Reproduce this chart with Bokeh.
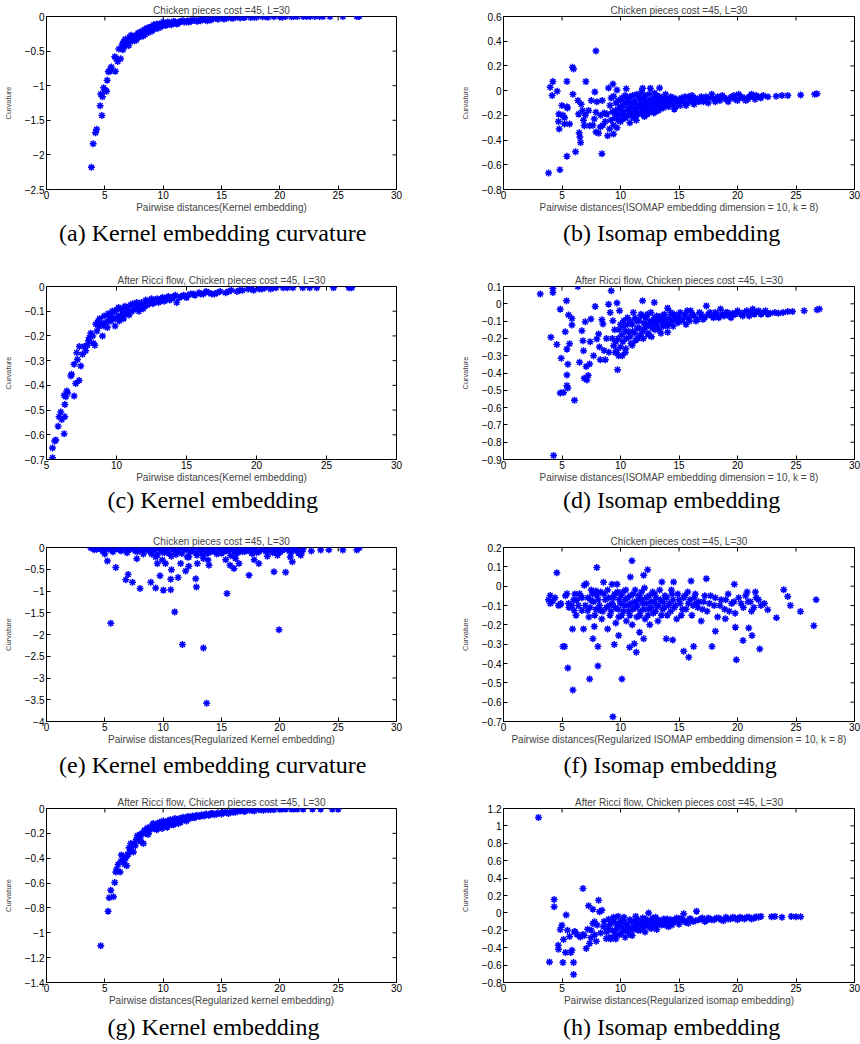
import math
from bokeh.plotting import figure
from bokeh.layouts import column, row
from bokeh.models import Range1d, FixedTicker, Title, CustomJSTickFormatter
from bokeh.embed import file_html
from bokeh.resources import INLINE

# ---------------- data ----------------
a_pts = [(3.85,-2.18),(4.0,-1.84),(4.2,-1.68),(4.3,-1.63),(4.6,-1.29),(4.75,-1.43),(4.65,-1.12),(4.8,-1.16),
         (4.9,-1.03),(5.05,-1.07),(5.15,-1.08),(5.2,-0.92),(5.3,-0.8),(5.45,-0.79),(5.55,-0.73),(5.5,-0.76),
         (5.9,-0.79),(5.85,-0.58),(5.95,-0.6),(6.1,-0.65),(6.35,-0.61),(6.2,-0.47),(6.45,-0.46),(6.55,-0.48),
         (6.5,-0.4),(6.6,-0.37),(6.7,-0.43),(6.8,-0.35),(6.9,-0.38),(6.75,-0.33),(7.0,-0.34),(7.05,-0.42),
         (7.1,-0.3),(7.2,-0.36),(7.25,-0.27),(7.3,-0.32),(7.5,-0.31),(7.6,-0.28),(7.7,-0.34),(7.8,-0.27),
         (7.9,-0.3),(8.0,-0.23),(8.1,-0.26),(8.2,-0.21),(8.3,-0.28),(8.4,-0.19),(8.5,-0.22),(8.6,-0.17),
         (8.7,-0.2),(8.8,-0.16),(8.9,-0.21),(9.0,-0.18),(9.1,-0.14),(9.2,-0.12),(9.3,-0.16),(9.4,-0.13),
         (9.6,-0.14),(9.7,-0.11),(9.8,-0.15),(9.9,-0.13),(10.0,-0.08),(10.1,-0.1),(10.3,-0.12),(10.5,-0.09),
         (10.6,-0.11),(10.8,-0.1),(11.0,-0.08),(11.1,-0.1),(11.3,-0.09),(11.5,-0.07),(11.8,-0.08),(12.0,-0.08),
         (12.1,-0.06),(12.4,-0.07),(12.7,-0.05),(12.9,-0.07),(13.0,-0.06),(13.3,-0.04),(13.6,-0.05),(13.8,-0.06),
         (14.0,-0.04),(14.3,-0.03),(14.7,-0.04),(15.0,-0.02),(15.4,-0.03),(15.8,-0.02),(16.2,-0.015),(16.6,-0.02),
         (17.0,-0.01),(17.5,-0.015),(18.0,-0.01),(18.5,-0.005),(19.0,-0.01),(19.5,-0.005),(20.0,-0.005),
         (20.5,0.0),(21.0,-0.005),(21.5,0.0),(22.0,0.0),(22.6,0.0),(23.4,0.0),(23.7,0.0),(24.3,0.0),
         (25.4,0.0),(26.6,0.0),(26.8,0.0)]
a_band = [(7.4,-0.29),(7.55,-0.35),(7.85,-0.24),(8.05,-0.29),(8.25,-0.24),(8.45,-0.26),(8.55,-0.18),
          (8.75,-0.23),(8.95,-0.15),(9.05,-0.21),(9.25,-0.18),(9.45,-0.11),(9.55,-0.17),(9.75,-0.13),
          (9.95,-0.11),(10.2,-0.13),(10.4,-0.08),(10.7,-0.12),(10.9,-0.07),(11.2,-0.11),(11.4,-0.08),
          (11.7,-0.06),(12.2,-0.08),(12.5,-0.05),(13.2,-0.06),(13.5,-0.035),(14.1,-0.05),(14.5,-0.025),
          (15.2,-0.035),(16.0,-0.025),(16.9,-0.015),(17.8,-0.01),(18.8,-0.005),(20.2,-0.01),(21.2,0.0),
          (22.3,0.0),(23.0,0.0)]

b_pts = [(3.85,-0.667),(3.99,0.027),(4.22,0.073),(4.16,-0.04),(4.59,-0.005),(4.73,-0.19),(4.7,-0.25),
         (4.76,-0.31),(4.82,-0.64),(4.99,-0.12),(5.08,-0.2),(5.22,-0.22),(5.22,-0.27),(5.42,0.075),(5.42,-0.13),
         (5.42,-0.53),(5.47,-0.14),(5.65,-0.27),(5.93,-0.03),(5.9,0.19),(5.99,0.175),(6.16,-0.495),(6.36,-0.08),
         (6.42,-0.19),(6.47,-0.34),(6.53,-0.375),(6.59,-0.42),(6.64,-0.11),(6.76,-0.16),(6.84,-0.24),(6.9,-0.285),
         (7.04,0.073),(6.99,-0.2),(7.27,-0.16),(7.36,-0.285),(7.5,-0.08),(7.64,-0.28),(7.76,-0.23),(7.81,-0.01),
         (7.9,0.32),(7.9,-0.175),(7.9,-0.335),(7.98,-0.09),(8.13,-0.345),(8.27,-0.295),(8.41,-0.51),(8.44,-0.08),
         (8.61,-0.18),(8.84,-0.19),(8.9,-0.365),(8.98,0.022),(9.07,-0.31),(9.18,-0.24),(9.35,0.054),(9.41,-0.045),
         (9.41,-0.28),(9.58,-0.16),(9.7,0.006),(9.78,-0.24),(9.6,-0.1),(9.9,-0.2),(10.0,-0.13),(10.0,-0.25),
         (10.1,-0.06),(10.2,-0.23),(10.2,-0.12),(10.3,-0.17),(10.4,-0.04),(10.49,0.015),(10.5,-0.1),(10.6,-0.2),
         (10.7,-0.14),(10.8,-0.05),(10.8,-0.26),(10.9,-0.18),(11.0,-0.11),(11.1,-0.22),(11.2,-0.08),(11.3,-0.15),
         (11.3,-0.21),(11.4,-0.03),(11.5,-0.19),(11.6,-0.12),(11.7,-0.07),(11.8,-0.01),(11.89,0.02),(11.9,-0.16),
         (12.0,-0.1),(12.0,-0.2),(12.1,-0.04),(12.2,-0.13),(12.3,-0.19),(12.4,-0.08),(12.55,0.02),(12.6,-0.12),
         (12.7,-0.15),(12.8,-0.06),(12.9,-0.1),(12.9,-0.02),(13.0,-0.17),(13.1,-0.04),(13.2,-0.12),(13.34,0.022),
         (13.4,-0.08),(13.5,-0.14),(13.6,-0.1),(13.8,-0.06),(13.9,-0.12),(14.0,-0.08),(14.2,-0.11),(14.3,-0.05),
         (14.5,-0.09),(14.7,-0.13),(14.8,-0.07),(15.0,-0.1),(15.2,-0.06),(15.4,-0.09),(15.6,-0.12),(15.8,-0.05),
         (16.0,-0.08),(16.2,-0.1),(16.4,-0.06),(16.7,-0.09),(17.0,-0.07),(17.3,-0.05),(17.5,-0.1),(17.8,-0.03),
         (18.0,-0.07),(18.3,-0.05),(18.5,-0.08),(18.9,-0.06),(19.2,-0.09),(19.5,-0.05),(19.8,-0.07),(20.1,-0.03),
         (20.4,-0.06),(20.7,-0.08),(21.0,-0.05),(21.2,-0.03),(21.5,-0.07),(21.8,-0.05),(22.2,-0.04),(22.6,-0.05),
         (23.3,-0.045),(23.8,-0.04),(24.3,-0.04),(25.4,-0.035),(26.6,-0.03),(26.8,-0.025)]
b_band = [(10.05,-0.16),(10.15,-0.08),(10.25,-0.19),(10.35,-0.11),(10.45,-0.22),(10.55,-0.06),(10.65,-0.15),
          (10.75,-0.09),(10.85,-0.2),(10.95,-0.13),(11.05,-0.04),(11.15,-0.17),(11.25,-0.1),(11.35,-0.24),
          (11.45,-0.13),(11.55,-0.05),(11.65,-0.18),(11.75,-0.1),(11.85,-0.14),(11.95,-0.06),(12.05,-0.21),
          (12.15,-0.09),(12.25,-0.15),(12.35,-0.11),(12.45,-0.03),(12.55,-0.17),(12.65,-0.08),(12.75,-0.12),
          (12.85,-0.18),(12.95,-0.07),(13.05,-0.13),(13.15,-0.09),(13.25,-0.16),(13.35,-0.05),(13.45,-0.11),
          (13.55,-0.07),(13.65,-0.14),(13.75,-0.09),(13.85,-0.03),(13.95,-0.1),(14.1,-0.13),(14.25,-0.07),
          (14.4,-0.11),(14.55,-0.06),(14.6,-0.15),(14.9,-0.09),(15.1,-0.12),(15.3,-0.08),(15.5,-0.05),
          (15.7,-0.1),(15.9,-0.07),(16.1,-0.04),(16.3,-0.11),(16.5,-0.08),(16.9,-0.05),(17.1,-0.09),
          (17.4,-0.07),(17.7,-0.06),(18.1,-0.09),(18.4,-0.06),(18.7,-0.04),(19.0,-0.07),(19.4,-0.06),
          (19.7,-0.04),(20.0,-0.08),(20.3,-0.05),(20.6,-0.06),(20.9,-0.07),(21.3,-0.05),(21.6,-0.04),
          (22.0,-0.06),(9.1,-0.12),(9.2,-0.06),(9.3,-0.17),(9.5,-0.22),(9.7,-0.3),(9.8,-0.08),(9.9,-0.14),
          (8.7,-0.25),(8.3,-0.2),(8.5,-0.28),(9.4,-0.35),(9.6,-0.19)]

c_pts = [(5.43,-0.693),(5.43,-0.653),(5.59,-0.625),(5.67,-0.621),(5.83,-0.565),(5.9,-0.527),(6.02,-0.508),
         (6.09,-0.538),(6.31,-0.527),(6.26,-0.596),(6.31,-0.477),(6.38,-0.446),(6.45,-0.423),(6.26,-0.44),
         (6.5,-0.43),(6.74,-0.362),(6.79,-0.355),(6.97,-0.443),(6.97,-0.315),(7.09,-0.392),(7.16,-0.268),
         (7.21,-0.295),(7.33,-0.38),(7.35,-0.243),(7.45,-0.322),(7.57,-0.274),(7.69,-0.243),(7.93,-0.238),
         (8.05,-0.207),(8.16,-0.189),(8.35,-0.23),(8.45,-0.238),(8.52,-0.153),(8.69,-0.139),(8.76,-0.162),
         (9.0,-0.2),(9.12,-0.119),(9.23,-0.146),(9.35,-0.166),(9.5,-0.12),(9.6,-0.14),(9.7,-0.1),(9.8,-0.13),
         (9.9,-0.16),(10.0,-0.095),(10.1,-0.12),(10.2,-0.14),(10.3,-0.09),(10.4,-0.11),(10.5,-0.13),(10.6,-0.08),
         (10.8,-0.1),(10.9,-0.115),(11.0,-0.075),(11.2,-0.095),(11.3,-0.07),(11.5,-0.085),(11.6,-0.1),
         (11.8,-0.065),(12.0,-0.08),(12.1,-0.055),(12.3,-0.07),(12.5,-0.05),(12.7,-0.065),(12.9,-0.05),
         (13.1,-0.06),(13.3,-0.045),(13.5,-0.055),(13.7,-0.04),(13.9,-0.05),(14.1,-0.04),(14.3,-0.065),
         (14.5,-0.045),(14.8,-0.035),(15.0,-0.045),(15.3,-0.03),(15.6,-0.035),(15.9,-0.025),(16.2,-0.03),
         (16.6,-0.025),(17.0,-0.03),(17.4,-0.02),(17.8,-0.025),(18.2,-0.015),(18.6,-0.02),(19.0,-0.015),
         (19.4,-0.01),(19.8,-0.015),(20.2,-0.01),(20.6,-0.005),(21.0,-0.01),(21.4,-0.005),(21.9,-0.005),
         (22.6,-0.005),(23.3,-0.005),(23.8,-0.005),(24.3,-0.005),(25.5,-0.005),(26.6,-0.005),(26.8,-0.005)]
c_band = [(9.45,-0.14),(9.65,-0.11),(9.85,-0.1),(10.05,-0.13),(10.15,-0.085),(10.35,-0.12),(10.45,-0.095),
          (10.7,-0.11),(10.75,-0.085),(11.1,-0.1),(11.15,-0.07),(11.4,-0.09),(11.45,-0.065),(11.7,-0.075),
          (11.9,-0.09),(12.2,-0.075),(12.4,-0.06),(12.6,-0.07),(12.8,-0.055),(13.0,-0.065),(13.2,-0.05),
          (13.4,-0.06),(13.6,-0.045),(13.8,-0.055),(14.0,-0.045),(14.2,-0.035),(14.6,-0.04),(15.1,-0.035),
          (15.5,-0.03),(16.0,-0.03),(16.4,-0.02),(16.8,-0.03),(17.2,-0.025),(18.0,-0.02),(18.8,-0.015),
          (19.6,-0.01),(20.4,-0.01),(21.2,-0.005),(22.2,-0.005),(8.3,-0.2),(8.6,-0.18),(8.9,-0.15),
          (8.0,-0.22),(7.8,-0.26),(8.8,-0.13),(9.1,-0.16),(9.4,-0.11)]

d_pts = [(3.14,0.056),(4.22,0.088),(4.22,0.065),(4.05,-0.194),(4.28,-0.877),(4.56,-0.235),(4.85,-0.031),
         (4.93,-0.315),(4.85,-0.515),(5.13,-0.512),(5.28,-0.162),(5.39,0.017),(5.42,-0.262),(5.42,-0.412),
         (5.42,-0.473),(5.5,-0.487),(5.5,-0.35),(5.56,-0.065),(5.65,-0.231),(5.85,-0.085),(5.85,-0.123),
         (6.07,-0.558),(6.36,0.1),(6.5,-0.338),(6.7,-0.156),(6.79,-0.213),(6.84,-0.271),(6.9,-0.431),
         (6.99,-0.104),(7.07,-0.362),(7.13,-0.44),(7.24,-0.415),(7.36,-0.348),(7.41,-0.219),(7.47,-0.088),
         (7.7,-0.3),(7.84,-0.015),(7.98,-0.204),(8.13,-0.175),(8.27,-0.323),(8.41,-0.092),(8.5,-0.117),
         (8.7,-0.323),(8.98,-0.002),(9.12,-0.05),(9.21,0.075),(9.35,-0.098),(9.41,-0.242),(9.55,-0.281),
         (9.7,0.004),(9.75,-0.381),(9.84,-0.3),(9.92,-0.04),(10.27,-0.098),(10.41,-0.281),(8.2,-0.25),
         (8.6,-0.27),(8.8,-0.2),(9.0,-0.28),(9.3,-0.2),(9.6,-0.22),(9.9,-0.15),(10.0,-0.25),(10.1,-0.18),
         (10.3,-0.13),(10.5,-0.2),(10.6,-0.08),(10.7,-0.16),(10.9,-0.23),(11.0,-0.12),(11.1,-0.05),(11.2,-0.17),
         (11.4,-0.1),(11.5,-0.2),(11.6,-0.14),(11.8,-0.07),(11.89,0.017),(11.9,-0.16),(12.0,-0.11),(12.2,-0.13),
         (12.3,-0.06),(12.4,-0.18),(12.5,-0.1),(12.7,-0.14),(12.89,0.008),(12.9,-0.08),(13.0,-0.12),(13.2,-0.1),
         (13.3,-0.15),(13.5,-0.07),(13.6,-0.11),(13.8,-0.09),(14.03,-0.025),(14.03,-0.165),(14.0,-0.13),
         (14.2,-0.08),(14.4,-0.1),(14.6,-0.06),(14.8,-0.09),(15.0,-0.07),(15.2,-0.1),(15.5,-0.06),(15.8,-0.08),
         (16.0,-0.04),(16.3,-0.07),(16.6,-0.09),(16.9,-0.06),(17.34,-0.012),(17.2,-0.08),(17.5,-0.06),
         (17.8,-0.07),(18.1,-0.05),(18.4,-0.08),(18.7,-0.06),(19.0,-0.05),(19.3,-0.07),(19.6,-0.055),
         (20.0,-0.04),(20.3,-0.06),(20.6,-0.05),(21.0,-0.07),(21.3,-0.03),(21.6,-0.05),(22.0,-0.06),
         (22.4,-0.04),(22.8,-0.055),(23.2,-0.05),(23.9,-0.05),(24.3,-0.045),(24.7,-0.045),(25.7,-0.04),
         (26.8,-0.035),(27.0,-0.03)]
d_band = [(9.5,-0.15),(9.7,-0.27),(9.8,-0.2),(10.0,-0.12),(10.15,-0.3),(10.2,-0.22),(10.4,-0.16),(10.45,-0.26),
          (10.6,-0.12),(10.8,-0.19),(10.85,-0.1),(11.0,-0.24),(11.05,-0.16),(11.25,-0.08),(11.3,-0.21),
          (11.45,-0.14),(11.55,-0.1),(11.7,-0.18),(11.75,-0.06),(11.95,-0.2),(12.1,-0.14),(12.15,-0.08),
          (12.35,-0.17),(12.45,-0.12),(12.6,-0.05),(12.65,-0.19),(12.8,-0.11),(12.95,-0.15),(13.1,-0.07),
          (13.15,-0.13),(13.4,-0.09),(13.45,-0.17),(13.65,-0.13),(13.75,-0.06),(13.9,-0.1),(14.15,-0.12),
          (14.3,-0.05),(14.5,-0.13),(14.7,-0.08),(14.9,-0.11),(15.1,-0.05),(15.35,-0.09),(15.6,-0.12),
          (15.7,-0.04),(15.9,-0.1),(16.15,-0.06),(16.45,-0.1),(16.75,-0.05),(17.05,-0.09),(17.65,-0.05),
          (17.95,-0.08),(18.25,-0.06),(18.55,-0.03),(18.85,-0.07),(19.15,-0.05),(19.45,-0.08),(19.8,-0.06),
          (20.15,-0.05),(20.45,-0.07),(20.8,-0.04),(21.15,-0.05),(21.45,-0.06),(21.8,-0.04),(22.2,-0.05),
          (22.6,-0.06),(23.5,-0.055)]

e_pts = [(5.51,-1.74),(5.94,-0.46),(5.0,-0.15),(5.22,-0.31),(7.0,-0.62),(6.8,-0.74),(7.37,-0.8),(7.74,-0.26),
         (8.02,-0.94),(8.94,-0.8),(9.36,-0.93),(9.73,-0.65),(10.02,-0.98),(10.65,-0.73),(10.65,-0.97),
         (10.71,-0.51),(10.99,-1.48),(11.28,-0.69),(11.65,-2.23),(11.5,-0.37),(11.93,-0.54),(12.2,-0.43),
         (12.79,-0.72),(12.85,-0.91),(13.45,-2.31),(13.73,-3.58),(13.85,-0.29),(13.93,-0.41),(15.47,-1.06),
         (15.73,-0.41),(16.07,-0.48),(16.5,-0.37),(17.36,-0.64),(17.8,-0.28),(18.2,-0.37),(18.93,-0.2),
         (19.5,-0.56),(19.93,-1.89),(19.8,-0.18),(20.5,-0.57),(21.07,-0.33),(20.9,-0.22),(21.8,-0.18),
         (22.7,-0.08),(23.5,-0.06),(24.2,-0.05),(25.4,-0.06),(26.6,-0.06),(26.8,-0.01),(9.36,-0.22),
         (9.5,-0.37),(9.93,-0.29),(10.2,-0.37),(12.07,-0.22),(12.93,-0.37),(13.45,-0.25),(15.36,-0.28),
         (16.2,-0.25),(3.8,-0.01),(4.1,-0.05),(4.4,-0.02),(4.8,-0.08),(5.3,-0.02),(5.7,-0.1),(6.2,-0.05),
         (6.5,-0.01),(6.9,-0.12),(7.2,-0.04),(7.6,-0.08),(8.0,-0.02),(8.3,-0.15),(8.6,-0.06),(8.9,-0.1),
         (9.2,-0.03),(9.5,-0.18),(9.8,-0.07),(10.1,-0.12),(10.4,-0.02),(10.7,-0.2),(11.0,-0.09),(11.3,-0.05),
         (11.6,-0.14),(11.9,-0.03),(12.2,-0.22),(12.5,-0.08),(12.8,-0.12),(13.1,-0.04),(13.4,-0.17),
         (13.7,-0.07),(14.0,-0.11),(14.3,-0.02),(14.6,-0.15),(14.9,-0.06),(15.2,-0.1),(15.5,-0.03),
         (15.8,-0.19),(16.1,-0.07),(16.4,-0.12),(16.7,-0.04),(17.0,-0.09),(17.3,-0.02),(17.6,-0.14),
         (17.9,-0.06),(18.2,-0.1),(18.6,-0.03),(19.0,-0.08),(19.4,-0.12),(19.8,-0.04),(20.2,-0.07),
         (20.6,-0.02),(21.0,-0.1),(21.3,-0.05),(21.6,-0.13),(22.0,-0.03)]
e_band = [(4.3,-0.04),(4.6,-0.01),(5.0,-0.04),(5.5,-0.06),(6.0,-0.02),(6.4,-0.08),(6.7,-0.03),(7.0,-0.05),
          (7.4,-0.02),(7.8,-0.1),(8.1,-0.05),(8.4,-0.01),(8.8,-0.03),(9.0,-0.15),(9.3,-0.07),(9.6,-0.01),
          (9.9,-0.1),(10.2,-0.05),(10.5,-0.14),(10.8,-0.03),(11.1,-0.16),(11.4,-0.08),(11.7,-0.01),(12.0,-0.06),
          (12.3,-0.1),(12.6,-0.02),(12.9,-0.18),(13.2,-0.09),(13.5,-0.03),(13.8,-0.13),(14.1,-0.05),(14.4,-0.09),
          (14.7,-0.01),(15.0,-0.13),(15.3,-0.05),(15.6,-0.09),(15.9,-0.02),(16.2,-0.14),(16.5,-0.05),(16.8,-0.1),
          (17.1,-0.04),(17.4,-0.08),(17.7,-0.02),(18.0,-0.12),(18.4,-0.05),(18.8,-0.09),(19.2,-0.02),(19.6,-0.06),
          (20.0,-0.11),(20.4,-0.04),(20.8,-0.08),(21.2,-0.02),(21.5,-0.07),(21.9,-0.1)]

f_pts = [(3.85,-0.07),(3.99,-0.048),(4.22,-0.077),(4.56,0.069),(4.7,-0.1),(4.85,-0.096),(5.08,-0.312),
         (5.22,-0.312),(5.42,-0.039),(5.5,-0.423),(5.56,-0.09),(5.85,-0.1),(5.9,-0.221),(5.93,-0.537),
         (6.05,-0.126),(6.27,-0.073),(6.5,-0.039),(6.7,-0.126),(6.84,-0.221),(6.9,0.005),(7.07,0.013),
         (7.19,-0.126),(7.36,-0.48),(7.47,-0.073),(7.64,-0.272),(7.76,-0.209),(7.9,-0.025),(7.98,0.096),
         (8.07,-0.312),(8.07,-0.413),(8.27,-0.126),(8.55,0.02),(8.9,-0.221),(9.27,0.01),(9.47,-0.302),
         (9.7,0.01),(9.84,-0.255),(10.12,-0.48),(9.35,-0.676),(10.78,-0.316),(10.98,0.131),(10.84,0.047),
         (11.18,-0.298),(11.35,-0.342),(11.63,-0.238),(11.98,0.056),(12.32,0.085),(11.98,-0.272),(13.54,0.022),
         (13.91,-0.272),(14.54,0.022),(14.46,-0.278),(15.4,-0.337),(15.83,-0.368),(16.03,0.027),(16.25,-0.312),
         (16.48,-0.087),(17.34,0.039),(17.82,-0.312),(18.11,-0.233),(18.96,-0.169),(19.73,0.01),(19.82,-0.212),
         (19.9,-0.38),(20.47,-0.281),(20.82,-0.03),(20.96,-0.216),(21.24,-0.255),(21.53,-0.03),(21.9,-0.325),
         (22.58,-0.122),(23.33,-0.163),(23.95,-0.018),(24.29,-0.053),(24.52,-0.1),(25.38,-0.131),(26.52,-0.205),
         (26.72,-0.07),(6.2,-0.15),(6.6,-0.05),(7.0,-0.1),(7.3,-0.16),(7.6,-0.04),(7.9,-0.12),(8.1,-0.07),
         (8.4,-0.17),(8.6,-0.04),(8.8,-0.11),(9.0,-0.06),(9.1,-0.15),(9.3,-0.09),(9.5,-0.04),(9.6,-0.19),
         (9.8,-0.12),(9.9,-0.07),(10.1,-0.15),(10.2,-0.03),(10.3,-0.1),(10.5,-0.18),(10.6,-0.06),(10.7,-0.13),
         (10.9,-0.09),(11.0,-0.2),(11.1,-0.04),(11.3,-0.11),(11.4,-0.16),(11.5,-0.07),(11.7,-0.13),(11.8,-0.03),
         (11.9,-0.09),(12.1,-0.17),(12.2,-0.06),(12.4,-0.12),(12.5,-0.2),(12.6,-0.08),(12.8,-0.14),(12.9,-0.04),
         (13.1,-0.1),(13.2,-0.18),(13.4,-0.07),(13.6,-0.12),(13.8,-0.05),(14.0,-0.15),(14.2,-0.09),(14.4,-0.04),
         (14.6,-0.11),(14.8,-0.17),(15.0,-0.07),(15.3,-0.12),(15.5,-0.05),(15.8,-0.09),(16.1,-0.15),(16.3,-0.06),
         (16.6,-0.11),(16.9,-0.18),(17.1,-0.08),(17.4,-0.13),(17.7,-0.05),(18.0,-0.1),(18.3,-0.16),(18.6,-0.07),
         (18.9,-0.12),(19.2,-0.04),(19.5,-0.09),(19.8,-0.14),(20.1,-0.06),(20.5,-0.11),(20.9,-0.08),(21.2,-0.13),
         (21.6,-0.06),(22.0,-0.1)]
f_band = [(7.2,-0.06),(7.4,-0.11),(7.5,-0.02),(7.7,-0.08),(7.8,-0.15),(8.0,-0.05),(8.2,-0.1),(8.3,-0.03),
          (8.5,-0.13),(8.7,-0.07),(8.9,-0.02),(9.05,-0.1),(9.2,-0.13),(9.4,-0.06),(9.55,-0.11),(9.75,-0.03),
          (9.85,-0.16),(10.0,-0.09),(10.05,-0.05),(10.25,-0.13),(10.4,-0.07),(10.45,-0.02),(10.65,-0.1),
          (10.8,-0.15),(10.85,-0.05),(11.05,-0.12),(11.2,-0.08),(11.25,-0.02),(11.45,-0.1),(11.6,-0.05),
          (11.65,-0.15),(11.85,-0.07),(12.0,-0.12),(12.05,-0.01),(12.25,-0.09),(12.35,-0.15),(12.45,-0.05),
          (12.65,-0.11),(12.75,-0.03),(12.85,-0.08),(13.0,-0.13),(13.05,-0.06),(13.25,-0.1),(13.35,-0.02),
          (13.5,-0.15),(13.65,-0.08),(13.75,-0.11),(13.95,-0.06),(14.1,-0.1),(14.3,-0.13),(14.35,-0.02),
          (14.5,-0.07),(14.7,-0.1),(14.9,-0.04),(15.1,-0.09),(15.2,-0.15),(15.4,-0.06),(15.6,-0.12),
          (15.75,-0.03),(15.95,-0.07),(16.2,-0.1),(16.4,-0.04),(16.7,-0.08),(17.0,-0.12),(17.2,-0.05),
          (17.6,-0.09),(18.1,-0.06),(18.5,-0.1),(19.0,-0.07),(19.3,-0.13),(19.7,-0.08),(20.3,-0.09),
          (20.7,-0.05),(21.1,-0.08),(21.4,-0.11),(21.8,-0.07),(22.3,-0.09),(4.0,-0.09),(4.4,-0.06),(4.9,-0.09),
          (5.3,-0.05),(5.6,-0.11),(6.0,-0.07),(6.4,-0.1),(6.7,-0.06),(6.1,-0.04)]

g_pts = [(4.65,-1.105),(5.28,-0.826),(5.37,-0.719),(5.51,-0.657),(5.74,-0.711),(5.85,-0.595),(5.94,-0.51),
         (6.02,-0.488),(6.14,-0.45),(6.31,-0.51),(6.37,-0.424),(6.42,-0.375),(6.71,-0.45),(6.59,-0.389),
         (6.88,-0.461),(6.94,-0.37),(7.08,-0.316),(7.22,-0.282),(7.3,-0.3),(7.45,-0.349),(7.51,-0.282),
         (7.6,-0.3),(7.79,-0.22),(7.9,-0.25),(8.02,-0.209),(8.08,-0.268),(8.2,-0.2),(8.31,-0.282),(8.42,-0.174),
         (8.5,-0.2),(8.65,-0.156),(8.79,-0.188),(8.9,-0.15),(9.08,-0.134),(9.22,-0.161),(9.4,-0.14),(9.5,-0.12),
         (9.6,-0.15),(9.7,-0.11),(9.8,-0.13),(9.9,-0.16),(10.0,-0.1),(10.1,-0.12),(10.2,-0.14),(10.4,-0.1),
         (10.5,-0.12),(10.6,-0.09),(10.8,-0.11),(10.9,-0.13),(11.0,-0.08),(11.2,-0.1),(11.4,-0.08),(11.5,-0.11),
         (11.7,-0.07),(11.9,-0.09),(12.1,-0.065),(12.3,-0.08),(12.5,-0.06),(12.7,-0.075),(12.9,-0.055),
         (13.1,-0.065),(13.3,-0.05),(13.5,-0.06),(13.7,-0.045),(13.9,-0.055),(14.1,-0.04),(14.4,-0.05),
         (14.7,-0.035),(15.0,-0.045),(15.3,-0.03),(15.6,-0.04),(15.9,-0.025),(16.2,-0.03),(16.6,-0.02),
         (17.0,-0.025),(17.4,-0.015),(17.8,-0.02),(18.2,-0.01),(18.6,-0.015),(19.0,-0.01),(19.5,-0.01),
         (20.0,-0.005),(20.5,-0.005),(21.0,-0.005),(21.5,-0.005),(22.0,-0.005),(22.8,-0.005),(23.5,-0.005),
         (24.5,-0.005),(25.0,-0.005)]
g_band = [(8.1,-0.22),(8.35,-0.19),(8.6,-0.17),(8.7,-0.21),(9.0,-0.16),(9.15,-0.12),(9.3,-0.15),(9.45,-0.17),
          (9.65,-0.12),(9.85,-0.14),(10.05,-0.13),(10.3,-0.11),(10.35,-0.15),(10.7,-0.1),(10.75,-0.13),
          (11.1,-0.09),(11.3,-0.12),(11.6,-0.09),(11.8,-0.08),(12.0,-0.1),(12.2,-0.07),(12.6,-0.07),(12.8,-0.06),
          (13.2,-0.06),(13.6,-0.05),(14.0,-0.05),(14.25,-0.04),(14.6,-0.045),(15.1,-0.035),(15.5,-0.03),
          (16.0,-0.03),(16.4,-0.02),(16.9,-0.02),(17.6,-0.015),(18.4,-0.01),(19.2,-0.01),(20.2,-0.005),
          (21.2,-0.005),(7.0,-0.37),(7.2,-0.34),(6.6,-0.42),(6.8,-0.4),(7.7,-0.25),(8.0,-0.25)]

h_pts = [(2.99,1.097),(3.93,-0.563),(4.33,0.153),(4.33,0.07),(4.68,-0.372),(4.7,-0.418),(4.85,-0.191),
         (4.99,-0.141),(5.08,-0.571),(5.13,-0.306),(5.3,-0.456),(5.36,-0.025),(5.47,-0.199),(5.65,-0.272),
         (5.76,-0.456),(5.85,-0.429),(5.99,-0.709),(5.99,-0.571),(6.05,-0.218),(6.13,-0.218),(6.56,-0.276),
         (6.79,0.28),(6.79,-0.249),(7.07,-0.41),(7.19,-0.188),(7.27,0.081),(7.36,-0.352),(7.47,-0.287),
         (7.64,0.043),(7.64,-0.122),(7.78,-0.103),(7.93,-0.326),(8.13,0.146),(8.21,0.012),(8.41,0.031),
         (8.55,-0.16),(8.78,-0.295),(8.98,-0.072),(6.3,-0.25),(6.9,-0.26),(7.5,-0.2),(7.8,-0.25),(8.0,-0.14),
         (8.3,-0.23),(8.6,-0.1),(8.9,-0.2),(9.1,-0.28),(9.2,-0.12),(9.4,-0.05),(9.5,-0.22),(9.6,-0.3),
         (9.7,-0.15),(9.8,-0.04),(9.9,-0.25),(10.0,-0.1),(10.2,-0.2),(10.3,-0.05),(10.4,-0.28),(10.5,-0.14),
         (10.6,-0.22),(10.8,-0.08),(10.9,-0.18),(11.0,-0.26),(11.2,-0.12),(11.3,-0.04),(11.5,-0.2),(11.6,-0.1),
         (11.8,-0.16),(11.9,-0.06),(12.1,-0.22),(12.2,-0.12),(12.4,0.0),(12.5,-0.17),(12.6,-0.09),(12.8,-0.14),
         (13.0,-0.05),(13.1,-0.19),(13.3,-0.1),(13.5,-0.14),(13.7,-0.07),(13.9,-0.12),(14.1,-0.16),(14.3,-0.08),
         (14.5,-0.11),(14.8,-0.06),(15.0,-0.13),(15.3,-0.09),(15.4,-0.01),(15.6,-0.11),(15.9,-0.07),(16.2,-0.1),
         (16.5,0.02),(16.7,-0.08),(17.0,-0.06),(17.3,-0.09),(17.6,-0.07),(18.0,-0.08),(18.4,-0.06),(18.8,-0.09),
         (19.2,-0.07),(19.6,-0.05),(20.0,-0.08),(20.4,-0.06),(20.8,-0.05),(21.2,-0.07),(21.6,-0.045),
         (22.0,-0.04),(22.9,-0.045),(23.2,-0.04),(23.8,-0.05),(24.6,-0.04),(25.0,-0.045),(25.4,-0.045)]
h_band = [(8.8,-0.22),(9.0,-0.15),(9.15,-0.3),(9.3,-0.2),(9.45,-0.1),(9.55,-0.26),(9.75,-0.18),(9.85,-0.12),
          (10.05,-0.24),(10.1,-0.16),(10.25,-0.09),(10.45,-0.2),(10.55,-0.13),(10.7,-0.17),(10.85,-0.25),
          (10.95,-0.1),(11.1,-0.19),(11.25,-0.15),(11.4,-0.08),(11.55,-0.14),(11.7,-0.2),(11.85,-0.11),
          (12.0,-0.16),(12.15,-0.07),(12.3,-0.14),(12.45,-0.1),(12.65,-0.18),(12.75,-0.06),(12.9,-0.12),
          (13.05,-0.15),(13.2,-0.08),(13.4,-0.12),(13.6,-0.09),(13.8,-0.14),(14.0,-0.07),(14.2,-0.11),
          (14.4,-0.14),(14.6,-0.08),(14.9,-0.1),(15.2,-0.06),(15.5,-0.09),(15.8,-0.12),(16.0,-0.07),
          (16.4,-0.09),(16.9,-0.07),(17.2,-0.1),(17.5,-0.06),(17.8,-0.08),(18.2,-0.06),(18.6,-0.08),
          (19.0,-0.05),(19.4,-0.07),(19.8,-0.06),(20.2,-0.05),(20.6,-0.07),(21.0,-0.05),(21.4,-0.06),
          (21.8,-0.05)]

# tick values
x_ticks = [0, 5, 10, 15, 20, 25, 30]
x_ticks_c = [5, 10, 15, 20, 25, 30]
a_yticks = [-2.5, -2, -1.5, -1, -0.5, 0]
b_yticks = [-0.8, -0.6, -0.4, -0.2, 0, 0.2, 0.4, 0.6]
c_yticks = [-0.7, -0.6, -0.5, -0.4, -0.3, -0.2, -0.1, 0]
d_yticks = [-0.9, -0.8, -0.7, -0.6, -0.5, -0.4, -0.3, -0.2, -0.1, 0, 0.1]
e_yticks = [-4, -3.5, -3, -2.5, -2, -1.5, -1, -0.5, 0]
f_yticks = [-0.7, -0.6, -0.5, -0.4, -0.3, -0.2, -0.1, 0, 0.1, 0.2]
g_yticks = [-1.4, -1.2, -1, -0.8, -0.6, -0.4, -0.2, 0]
h_yticks = [-0.8, -0.6, -0.4, -0.2, 0, 0.2, 0.4, 0.6, 0.8, 1, 1.2]

titles = ["Chicken pieces cost =45, L=30", "Chicken pieces cost =45, L=30",
          "After Ricci flow, Chicken pieces cost =45, L=30", "After Ricci flow, Chicken pieces cost =45, L=30",
          "Chicken pieces cost =45, L=30", "Chicken pieces cost =45, L=30",
          "After Ricci flow, Chicken pieces cost =45, L=30", "After Ricci flow, Chicken pieces cost =45, L=30"]
xlabels = ["Pairwise distances(Kernel embedding)",
           "Pairwise distances(ISOMAP embedding dimension = 10, k = 8)",
           "Pairwise distances(Kernel embedding)",
           "Pairwise distances(ISOMAP embedding dimension = 10, k = 8)",
           "Pairwise distances(Regularized Kernel embedding)",
           "Pairwise distances(Regularized ISOMAP embedding dimension = 10, k = 8)",
           "Pairwise distances(Regularized kernel embedding)",
           "Pairwise distances(Regularized isomap embedding)"]
captions = ["(a) Kernel embedding curvature", "(b) Isomap embedding",
            "(c) Kernel embedding", "(d) Isomap embedding",
            "(e) Kernel embedding curvature", "(f) Isomap embedding",
            "(g) Kernel embedding", "(h) Isomap embedding"]

SANS = "Liberation Sans"
FMT_CODE = "const v = Math.round(tick*1e6)/1e6; return v < 0 ? '\\u2212' + String(-v) : String(v);"


def style_axis(ax, ticks):
    ax.ticker = FixedTicker(ticks=ticks)
    ax.formatter = CustomJSTickFormatter(code=FMT_CODE)
    ax.major_tick_in = 4
    ax.major_tick_out = 0
    ax.minor_tick_line_color = None
    ax.axis_line_color = "black"
    ax.axis_line_width = 1
    ax.major_tick_line_color = "black"
    ax.major_label_text_font = SANS
    ax.major_label_text_color = "black"
    ax.major_label_text_font_size = "10px"
    ax.major_label_standoff = 1


def panel(pts, xr, xt, yr, yt, title, xlabel, caption, col, height, top, fh, cap_dx, cap_sd):
    if col == 0:
        bl, fw = 46, 350
    else:
        bl, fw = 73, 351
    width = 430
    br = width - bl - fw
    bb = height - top - fh
    p = figure(width=width, height=height, x_range=Range1d(*xr), y_range=Range1d(*yr),
               output_backend="svg", toolbar_location=None, title=title,
               min_border_left=bl, min_border_right=br, min_border_top=top, min_border_bottom=bb,
               background_fill_color="white", border_fill_color="white")
    p.title.align = "center"
    p.title.text_font = SANS
    p.title.text_font_style = "normal"
    p.title.text_font_size = "10px"
    p.title.standoff = 2
    p.outline_line_color = "black"
    p.xgrid.grid_line_color = None
    p.ygrid.grid_line_color = None
    style_axis(p.xaxis[0], xt)
    style_axis(p.yaxis[0], yt)
    p.yaxis[0].major_label_standoff = 2
    p.xaxis[0].axis_label = xlabel
    p.xaxis[0].axis_label_text_font = SANS
    p.xaxis[0].axis_label_text_font_style = "normal"
    p.xaxis[0].axis_label_text_font_size = "10px"
    p.xaxis[0].axis_label_standoff = 0
    p.yaxis[0].axis_label = "Curvature"
    p.yaxis[0].axis_label_text_font = SANS
    p.yaxis[0].axis_label_text_font_style = "normal"
    p.yaxis[0].axis_label_text_font_size = "7.5px"
    p.yaxis[0].axis_label_standoff = 9

    # mirrored inward ticks on the top and right edges (MATLAB box style)
    x0, x1 = xr
    y0, y1 = yr
    p.scatter(xt, [y1] * len(xt), marker="dash", size=8, angle=math.pi / 2,
              line_color="black", line_width=1)
    p.scatter([x1] * len(yt), yt, marker="dash", size=8, angle=0,
              line_color="black", line_width=1)

    xs = [q[0] for q in pts]
    ys = [q[1] for q in pts]
    p.scatter(xs, ys, marker="asterisk", size=7, line_color="#0000ff", line_width=1.5)

    cap = Title(text=caption, align="left", offset=cap_dx, standoff=cap_sd,
                text_font="Liberation Serif", text_font_style="normal",
                text_font_size="24px", text_color="black")
    p.add_layout(cap, "below")
    return p


pa = panel(a_pts + a_band, (0, 30), x_ticks, (-2.5, 0), a_yticks, titles[0], xlabels[0], captions[0], 0, 258, 16, 173, 12.6, 5)
pb = panel(b_pts + b_band, (0, 30), x_ticks, (-0.8, 0.6), b_yticks, titles[1], xlabels[1], captions[1], 1, 258, 16, 173, 59.4, 5)
pc = panel(c_pts + c_band, (5, 30), x_ticks_c, (-0.7, 0), c_yticks, titles[2], xlabels[2], captions[2], 0, 262, 28, 173, 61, -1)
pd_ = panel(d_pts + d_band, (0, 30), x_ticks, (-0.9, 0.1), d_yticks, titles[3], xlabels[3], captions[3], 1, 262, 28, 173, 59.4, -1)
pe = panel(e_pts + e_band, (0, 30), x_ticks, (-4, 0), e_yticks, titles[4], xlabels[4], captions[4], 0, 261, 27, 174, 12.6, 5)
pf = panel(f_pts + f_band, (0, 30), x_ticks, (-0.7, 0.2), f_yticks, titles[5], xlabels[5], captions[5], 1, 261, 27, 174, 60, 5)
pg = panel(g_pts + g_band, (0, 30), x_ticks, (-1.4, 0), g_yticks, titles[6], xlabels[6], captions[6], 0, 263, 27, 174, 61, 7)
ph = panel(h_pts + h_band, (0, 30), x_ticks, (-0.8, 1.2), h_yticks, titles[7], xlabels[7], captions[7], 1, 263, 27, 174, 59.4, 7)

layout = column(row(pa, pb), row(pc, pd_), row(pe, pf), row(pg, ph))

open("out.html", "w").write(file_html(layout, INLINE))
